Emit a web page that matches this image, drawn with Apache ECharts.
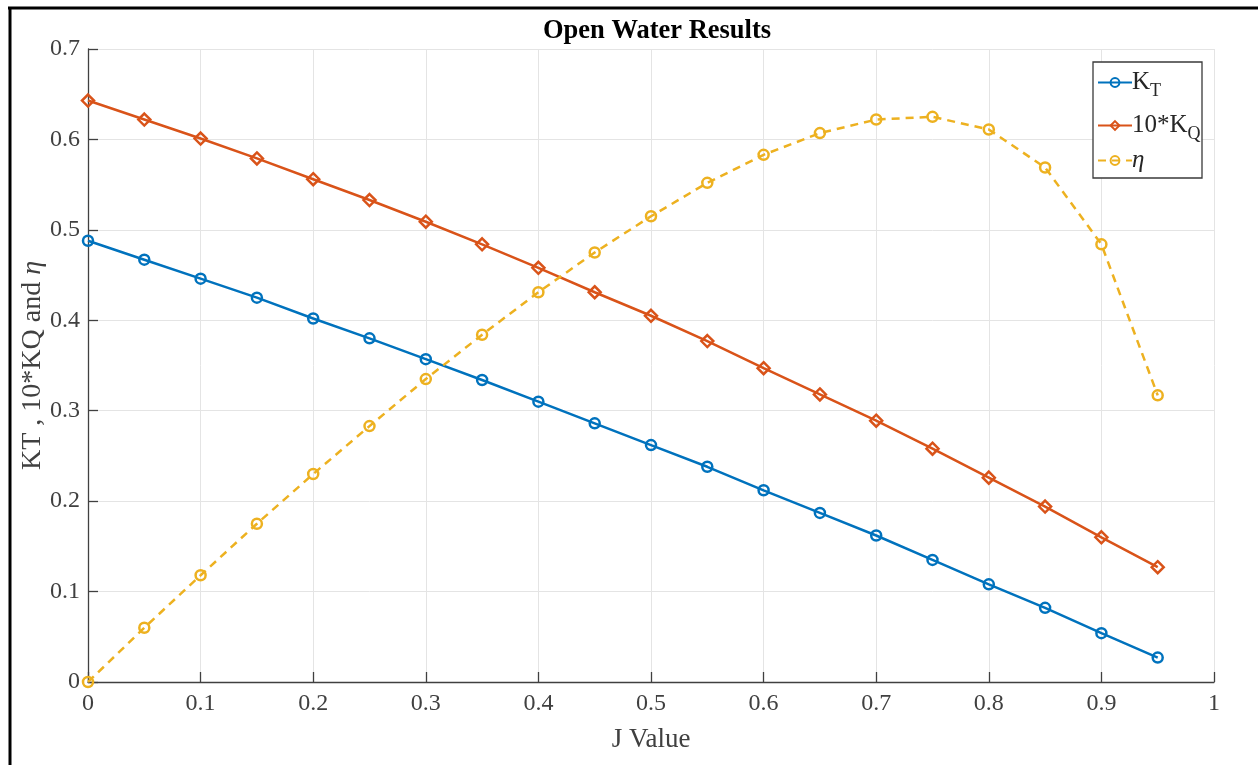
<!DOCTYPE html>
<html>
<head>
<meta charset="utf-8">
<title>Open Water Results</title>
<script src="https://cdn.jsdelivr.net/npm/echarts@6/dist/echarts.min.js"></script>
<style>
  html, body { margin: 0; padding: 0; background: #fff; }
  #chart { width: 1258px; height: 765px; }
</style>
</head>
<body>
<div id="chart"></div>
<script>
// Advance ratio J
const jValues = [0, 0.05, 0.1, 0.15, 0.2, 0.25, 0.3, 0.35, 0.4, 0.45,
                 0.5, 0.55, 0.6, 0.65, 0.7, 0.75, 0.8, 0.85, 0.9, 0.95];
// Thrust coefficient KT
const ktValues = [0.488, 0.467, 0.446, 0.425, 0.402, 0.380, 0.357, 0.334, 0.310, 0.286,
                  0.262, 0.238, 0.212, 0.187, 0.162, 0.135, 0.108, 0.082, 0.054, 0.027];
// Torque coefficient, scaled: 10*KQ
const kq10Values = [0.643, 0.622, 0.601, 0.579, 0.556, 0.533, 0.509, 0.484, 0.458, 0.431,
                    0.405, 0.377, 0.347, 0.318, 0.289, 0.258, 0.226, 0.194, 0.160, 0.127];
// Open water efficiency eta
const etaValues = [0.000, 0.060, 0.118, 0.175, 0.230, 0.283, 0.335, 0.384, 0.431, 0.475,
                   0.515, 0.552, 0.583, 0.607, 0.622, 0.625, 0.611, 0.569, 0.484, 0.317];

const xTickLabels = ['0', '0.1', '0.2', '0.3', '0.4', '0.5', '0.6', '0.7', '0.8', '0.9', '1'];
const yTickLabels = ['0', '0.1', '0.2', '0.3', '0.4', '0.5', '0.6', '0.7'];

const SERIF = '"Liberation Serif", "DejaVu Serif", serif';
const AXIS_COLOR = '#404040';
const TEXT_COLOR = '#262626';
const COLORS = ['#0072BD', '#D95319', '#EDB120'];

const pairs = vals => jValues.map((j, i) => [j, vals[i]]);
const tickIndex = v => Math.round(v * 10);

function lineSeries(name, vals, color, symbol, dashed) {
  return {
    name: name,
    type: 'line',
    data: pairs(vals),
    symbol: symbol,
    symbolSize: symbol === 'diamond' ? 12 : 10,
    showSymbol: true,
    lineStyle: { color: color, width: 2.5, type: dashed ? [8, 6] : 'solid' },
    itemStyle: { color: 'rgba(255,255,255,0)', borderColor: color, borderWidth: 2.5 },
    emphasis: { disabled: true },
    z: 3
  };
}

// shared look of the legend entries (the frame is drawn as a graphic rect)
const legendBase = {
  orient: 'vertical',
  left: 1097,
  padding: 0,
  itemWidth: 34,
  itemHeight: 11,
  selectedMode: false,
  z: 6,
  textStyle: {
    fontFamily: SERIF, fontSize: 25, color: TEXT_COLOR, padding: [0, 0, 0, -5],
    rich: {
      m: { fontFamily: SERIF, fontSize: 25, color: TEXT_COLOR },
      s: { fontFamily: SERIF, fontSize: 18, color: TEXT_COLOR, padding: [17, 0, 0, 0] },
      i: { fontFamily: SERIF, fontSize: 25, fontStyle: 'italic', color: TEXT_COLOR }
    }
  },
  formatter: function (name) {
    if (name === 'KT') return '{m|K}{s|T}';
    if (name === '10*KQ') return '{m|10*K}{s|Q}';
    return '{i|' + name + '}';
  }
};

const chart = echarts.init(document.getElementById('chart'), null, { renderer: 'canvas' });

chart.setOption({
  backgroundColor: '#fff',
  animation: false,
  title: {
    text: 'Open Water Results',
    left: 652,
    textAlign: 'center',
    top: 13,
    textStyle: { fontFamily: SERIF, fontWeight: 'bold', fontSize: 26.5, color: '#000' }
  },
  grid: { left: 88, right: 44, top: 49, bottom: 83, containLabel: false },
  xAxis: {
    type: 'value',
    min: 0, max: 1, interval: 0.1,
    name: 'J Value',
    nameLocation: 'middle',
    nameGap: 44,
    nameTextStyle: { fontFamily: SERIF, fontSize: 27, color: AXIS_COLOR },
    axisLine: { show: true, lineStyle: { color: AXIS_COLOR, width: 1.3 } },
    axisTick: { show: true, inside: true, length: 10, lineStyle: { color: AXIS_COLOR, width: 1.3 } },
    axisLabel: {
      fontFamily: SERIF, fontSize: 24, color: AXIS_COLOR, margin: 10,
      formatter: v => xTickLabels[tickIndex(v)]
    },
    splitLine: { show: true, lineStyle: { color: '#e4e4e4', width: 1 } }
  },
  yAxis: {
    type: 'value',
    min: 0, max: 0.7, interval: 0.1,
    name: '{a|KT , 10*KQ and }{i|η}',
    nameLocation: 'middle',
    nameRotate: 90,
    nameGap: 41,
    nameMoveOverlap: false,
    nameTextStyle: {
      fontFamily: SERIF, fontSize: 28, color: AXIS_COLOR,
      rich: {
        a: { fontFamily: SERIF, fontSize: 28, color: AXIS_COLOR },
        i: { fontFamily: SERIF, fontSize: 28, fontStyle: 'italic', color: AXIS_COLOR }
      }
    },
    axisLine: { show: true, onZero: false, lineStyle: { color: AXIS_COLOR, width: 1.3 } },
    axisTick: { show: true, inside: true, length: 10, lineStyle: { color: AXIS_COLOR, width: 1.3 } },
    axisLabel: {
      fontFamily: SERIF, fontSize: 24, color: AXIS_COLOR, margin: 8,
      formatter: v => yTickLabels[tickIndex(v)]
    },
    splitLine: { show: true, lineStyle: { color: '#e4e4e4', width: 1 } }
  },
  legend: [
    Object.assign({}, legendBase, { top: 70, itemGap: 13, data: ['KT', '10*KQ'] }),
    Object.assign({}, legendBase, { top: 148, data: ['η'] })
  ],
  graphic: [
    {
      type: 'rect', z: 5,
      shape: { x: 1093, y: 62, width: 109, height: 116 },
      style: { fill: '#fff', stroke: '#3a3a3a', lineWidth: 1.3 }
    },
    { type: 'line', shape: { x1: 8, y1: 8, x2: 1258, y2: 8 }, style: { stroke: '#000', lineWidth: 3 }, z: 10 },
    { type: 'line', shape: { x1: 10, y1: 7, x2: 10, y2: 765 }, style: { stroke: '#000', lineWidth: 3 }, z: 10 }
  ],
  series: [
    lineSeries('KT', ktValues, COLORS[0], 'circle', false),
    lineSeries('10*KQ', kq10Values, COLORS[1], 'diamond', false),
    lineSeries('η', etaValues, COLORS[2], 'circle', true)
  ]
});
</script>
</body>
</html>
